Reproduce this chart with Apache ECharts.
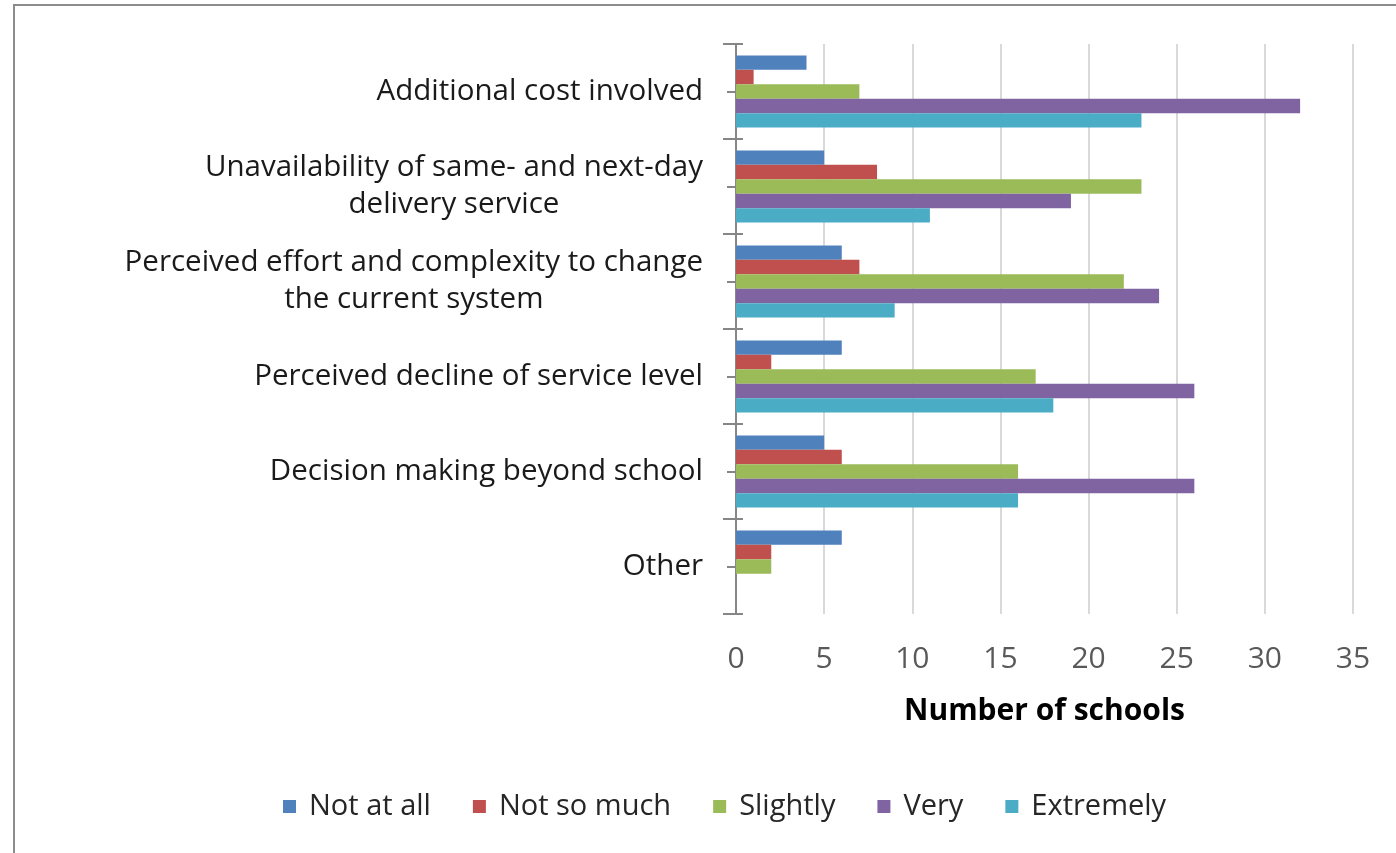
<!DOCTYPE html>
<html>
<head>
<meta charset="utf-8">
<title>Number of schools</title>
<script src="https://cdn.jsdelivr.net/npm/echarts@6/dist/echarts.min.js"></script>
<style>
  html, body { margin: 0; padding: 0; background: #ffffff; }
  #chart { width: 1396px; height: 853px; }
</style>
</head>
<body>
<div id="chart"></div>
<script>
// Barriers, top to bottom
const categories = [
  'Additional cost involved',
  'Unavailability of same- and next-day\ndelivery service',
  'Perceived effort and complexity to change\nthe current system',
  'Perceived decline of service level',
  'Decision making beyond school',
  'Other'
];

const seriesNames = ['Not at all', 'Not so much', 'Slightly', 'Very', 'Extremely'];

const notAtAll   = [4, 5, 6, 6, 5, 6];
const notSoMuch  = [1, 8, 7, 2, 6, 2];
const slightly   = [7, 23, 22, 17, 16, 2];
const very       = [32, 19, 24, 26, 26, 0];
const extremely  = [23, 11, 9, 18, 16, 0];

const xTicks = [0, 5, 10, 15, 20, 25, 30, 35];

const colors = ['#4F81BD', '#C0504D', '#9BBB59', '#8064A2', '#4BACC6'];
const values = [notAtAll, notSoMuch, slightly, very, extremely];

const FONT = '"Open Sans", "Noto Sans", sans-serif';

const chart = echarts.init(document.getElementById('chart'));

// Extra tick-only category axes so the ticks cross the axis line
function tickAxis(len, inside, alignWithLabel) {
  return {
    type: 'category',
    data: categories,
    inverse: true,
    position: 'left',
    axisLine: { show: false },
    axisLabel: { show: false },
    splitLine: { show: false },
    axisTick: {
      show: true,
      inside: inside,
      length: len,
      alignWithLabel: alignWithLabel,
      lineStyle: { color: '#868686', width: 2 }
    }
  };
}

const option = {
  backgroundColor: '#ffffff',
  animation: false,
  textStyle: { fontFamily: FONT },
  grid: { left: 736, right: 43, top: 44, bottom: 239 },
  legend: {
    left: 278,
    top: 787,
    itemWidth: 13,
    itemHeight: 13,
    itemGap: 42,
    icon: 'rect',
    data: seriesNames,
    textStyle: { fontSize: 29, color: '#262626', fontFamily: FONT, padding: [0, 0, 0, 8] }
  },
  xAxis: {
    type: 'value',
    min: 0,
    max: 35,
    interval: 5,
    axisLine: { show: false },
    axisTick: { show: false },
    splitLine: { show: true, lineStyle: { color: '#D9D9D9', width: 2 } },
    axisLabel: {
      margin: 30,
      fontSize: 30,
      color: '#595959',
      fontFamily: FONT,
      formatter: v => (xTicks.indexOf(v) >= 0 ? String(v) : '')
    },
    name: 'Number of schools',
    nameLocation: 'middle',
    nameGap: 82,
    nameTextStyle: { fontSize: 30, fontWeight: 'bold', color: '#000000', fontFamily: FONT }
  },
  yAxis: [
    {
      type: 'category',
      data: categories,
      inverse: true,
      position: 'left',
      axisLine: { show: true, lineStyle: { color: '#868686', width: 2 } },
      axisTick: { show: true, length: 13, lineStyle: { color: '#868686', width: 2 } },
      splitLine: { show: false },
      axisLabel: {
        margin: 33,
        color: '#1a1a1a',
        fontSize: 29.5,
        fontFamily: FONT,
        lineHeight: 37,
        formatter: v => v.split('\n').map(l => '{c|' + l + '}').join('\n'),
        rich: {
          c: { align: 'center', fontSize: 29.5, lineHeight: 37, color: '#1a1a1a', fontFamily: FONT }
        }
      }
    },
    tickAxis(7, true, false),
    tickAxis(9, false, true),
    tickAxis(5, true, true)
  ],
  series: seriesNames.map((name, i) => ({
    name: name,
    type: 'bar',
    yAxisIndex: 0,
    data: values[i],
    barGap: '0%',
    barCategoryGap: '24%',
    itemStyle: { color: colors[i] }
  }))
};

chart.setOption(option);

// Chart area frame
chart.setOption({
  graphic: [{
    type: 'rect',
    silent: true,
    z: -1,
    shape: { x: 14, y: 5, width: 1500, height: 1000 },
    style: { fill: null, stroke: '#8c8c8c', lineWidth: 2 }
  }]
});
</script>
</body>
</html>
